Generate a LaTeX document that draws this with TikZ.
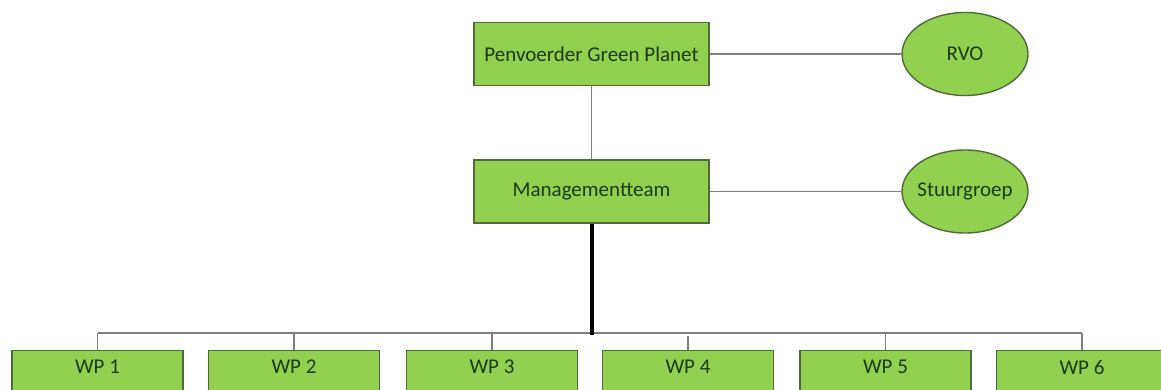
\documentclass[tikz,border=0pt]{standalone}
\usepackage{fontspec}
\setmainfont{Carlito}
\usetikzlibrary{shapes.geometric}
\definecolor{boxgreen}{HTML}{92D050}
\definecolor{boxedge}{HTML}{4F6B3A}
\definecolor{txtgreen}{HTML}{1C3A14}
\definecolor{linegray}{HTML}{7F7F7F}
\tikzset{
  topbox/.style={draw=boxedge, line width=1.4pt, fill=boxgreen, minimum width=235pt, minimum height=63pt, inner sep=0pt, text=txtgreen, font=\fontsize{21}{24}\selectfont},
  oval/.style={ellipse, draw=boxedge, line width=1.4pt, fill=boxgreen, minimum width=126pt, minimum height=83pt, inner xsep=-16pt, inner ysep=0pt, text=txtgreen, font=\fontsize{21}{24}\selectfont},
  wpbox/.style={draw=boxedge, line width=1.4pt, fill=boxgreen, minimum width=171pt, minimum height=70pt, inner sep=0pt, anchor=north},
  wptext/.style={text=txtgreen, font=\fontsize{21}{24}\selectfont, inner sep=0pt},
  conn/.style={draw=linegray, line width=1.4pt},
  thick conn/.style={draw=black, line width=4pt}
}
\begin{document}
\begin{tikzpicture}[x=1pt, y=-1pt]
\useasboundingbox (0,0) rectangle (1161,390);
\fill[white] (0,0) rectangle (1161,390);
\clip (0,0) rectangle (1161,390);
% top boxes
\node[topbox] (pen) at (591.5,54) {Penvoerder Green Planet};
\node[topbox] (mgt) at (591.5,191.5) {Managementteam};
\node[oval] (rvo) at (965,54) {RVO};
\node[oval] (stu) at (965,191.5) {Stuurgroep};
% WP boxes
\node[wpbox] (wp1) at (97.5,350) {};
\node[wpbox] (wp2) at (294,350) {};
\node[wpbox] (wp3) at (492,350) {};
\node[wpbox] (wp4) at (688,350) {};
\node[wpbox] (wp5) at (885.5,350) {};
\node[wpbox] (wp6) at (1082,350) {};
\node[wptext] (t1) at ([yshift=-17pt]wp1.north) {WP 1};
\node[wptext] (t2) at ([yshift=-17pt]wp2.north) {WP 2};
\node[wptext] (t3) at ([yshift=-17pt]wp3.north) {WP 3};
\node[wptext] (t4) at ([yshift=-17pt]wp4.north) {WP 4};
\node[wptext] (t5) at ([yshift=-17pt]wp5.north) {WP 5};
\node[wptext] (t6) at ([yshift=-17pt]wp6.north) {WP 6};
% bus
\coordinate (busL) at (97.5,333);
\coordinate (busR) at (1082,333);
\coordinate (busM) at (592,335);
% connectors
\draw[conn] (pen.east) -- (rvo.west);
\draw[conn] (mgt.east) -- (stu.west);
\draw[conn] (pen.south) -- (mgt.north);
\draw[conn] (busL) -- (busR);
\foreach \w in {wp1,wp2,wp3,wp5,wp6}{
  \draw[conn] (\w.north) -- (\w.north |- busL);
}
\draw[conn] (wp4.north) -- ([yshift=-3pt]wp4.north |- busL);
\draw[thick conn] (mgt.south) -- (mgt.south |- busM);
\end{tikzpicture}
\end{document}
